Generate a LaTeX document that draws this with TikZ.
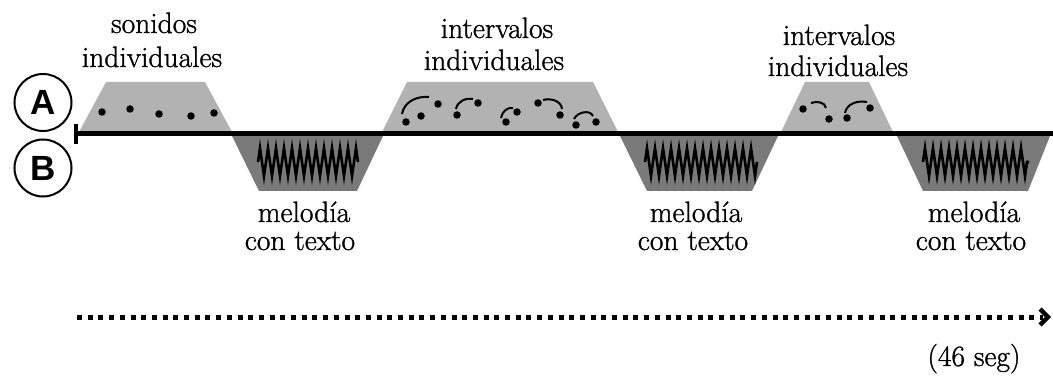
\documentclass[tikz,border=0pt]{standalone}
\usepackage{fontspec}
\newfontfamily\letterfont{Liberation Sans}
\newfontfamily\lblfont{Latin Modern Roman}[FakeBold=1.1]
\usetikzlibrary{decorations.pathmorphing}
\definecolor{agray}{RGB}{178,178,178}
\definecolor{bgray}{RGB}{122,122,122}
\tikzset{
  lbl/.style={anchor=base, inner sep=0pt, font=\lblfont\fontsize{29.5}{34}\selectfont},
  abox/.style={fill=agray, draw=none},
  bbox/.style={fill=bgray, draw=none},
  zz/.style={draw=black, line width=2.6pt, line join=miter,
    decorate, decoration={zigzag, segment length=8pt, amplitude=14pt}},
  dot/.style={circle, fill=black, inner sep=0pt, minimum size=7.5pt},
  arcline/.style={draw=black, line width=2pt},
  letter/.style={circle, draw=black, line width=2pt, minimum size=57pt, inner sep=0pt,
    font=\letterfont\bfseries\fontsize{35}{35}\selectfont}
}
\begin{document}
\begin{tikzpicture}[x=1pt, y=-1pt]
\useasboundingbox (0,0) rectangle (1053,377);
% A trapezoids
\fill[abox] (79,132) -- (106,82) -- (205,82) -- (232,132) -- cycle;
\fill[abox] (382,132) -- (407,82) -- (593,82) -- (618,132) -- cycle;
\fill[abox] (781,132) -- (805,82) -- (869,82) -- (893,132) -- cycle;
% B trapezoids
\fill[bbox] (232,136) -- (383,136) -- (357,191) -- (259,191) -- cycle;
\fill[bbox] (620,136) -- (778,136) -- (752,191) -- (647,191) -- cycle;
\fill[bbox] (897,136) -- (1050,136) -- (1028,191) -- (923,191) -- cycle;
% zigzags
\coordinate (z1a) at (258,162); \coordinate (z1b) at (358,162);
\coordinate (z2a) at (645,162); \coordinate (z2b) at (757,162);
\coordinate (z3a) at (923,162); \coordinate (z3b) at (1029,162);
\draw[zz] (z1a) -- (z1b);
\draw[zz] (z2a) -- (z2b);
\draw[zz] (z3a) -- (z3b);
% dots group 1
\foreach \p [count=\i] in {(102,112),(130,109),(159,114),(191,116),(214,113)}
  \node[dot] (d1\i) at \p {};
% group 2
\foreach \p [count=\i] in {(406,122),(421,116),(438,104),(457,115),(478,103),(506,122),(517,112),(538,103),(560,115),(576,125),(596,122)}
  \node[dot] (d2\i) at \p {};
\draw[arcline] (402,114) to[out=80, in=175] (429,97);
\draw[arcline] (456,109) to[out=80, in=170] (473,99);
\draw[arcline] (501,118) to[out=80, in=170] (513,108);
\draw[arcline] (543,100) to[out=15, in=95] (562,109);
\draw[arcline] (574,119) to[out=65, in=115] (593,116);
% group 3
\foreach \p [count=\i] in {(803,109),(829,119),(847,118),(870,108)}
  \node[dot] (d3\i) at \p {};
\draw[arcline] (811,103) to[out=20, in=100] (826,108);
\draw[arcline] (845,113) to[out=80, in=170] (867,102);
% timeline
\coordinate (tl0) at (76,134);
\coordinate (tl1) at (1053,134);
\draw[line width=5pt] (tl0) -- (tl1);
\draw[line width=4.5pt] (76,124) -- (76,144);
% letters
\node[letter] (A) at (43,102.5) {A};
\node[letter] (B) at (43,168) {B};
% labels
\node[lbl] (t1a) at (154,33) {sonidos};
\node[lbl] (t1b) at (152,67) {individuales};
\node[lbl] (t2a) at (497,38) {intervalos};
\node[lbl] (t2b) at (494,70) {individuales};
\node[lbl] (t3a) at (839,45) {intervalos};
\node[lbl] (t3b) at (838,76) {individuales};
\node[lbl] (m1a) at (304,222) {melodía};
\node[lbl] (m1b) at (300,250) {con texto};
\node[lbl] (m2a) at (696,222) {melodía};
\node[lbl] (m2b) at (693,250) {con texto};
\node[lbl] (m3a) at (974,222) {melodía};
\node[lbl] (m3b) at (971,250) {con texto};
% dotted arrow
\coordinate (ar0) at (77,317);
\coordinate (ar1) at (1043,317);
\draw[line width=5pt, dash pattern=on 5pt off 5.7pt] (ar0) -- (ar1);
\draw[line width=4.5pt, miter limit=10] (1040,309) -- (1048,317) -- (1040,325);
\node[lbl] (sec) at (974,366) {(46 seg)};
\end{tikzpicture}
\end{document}
